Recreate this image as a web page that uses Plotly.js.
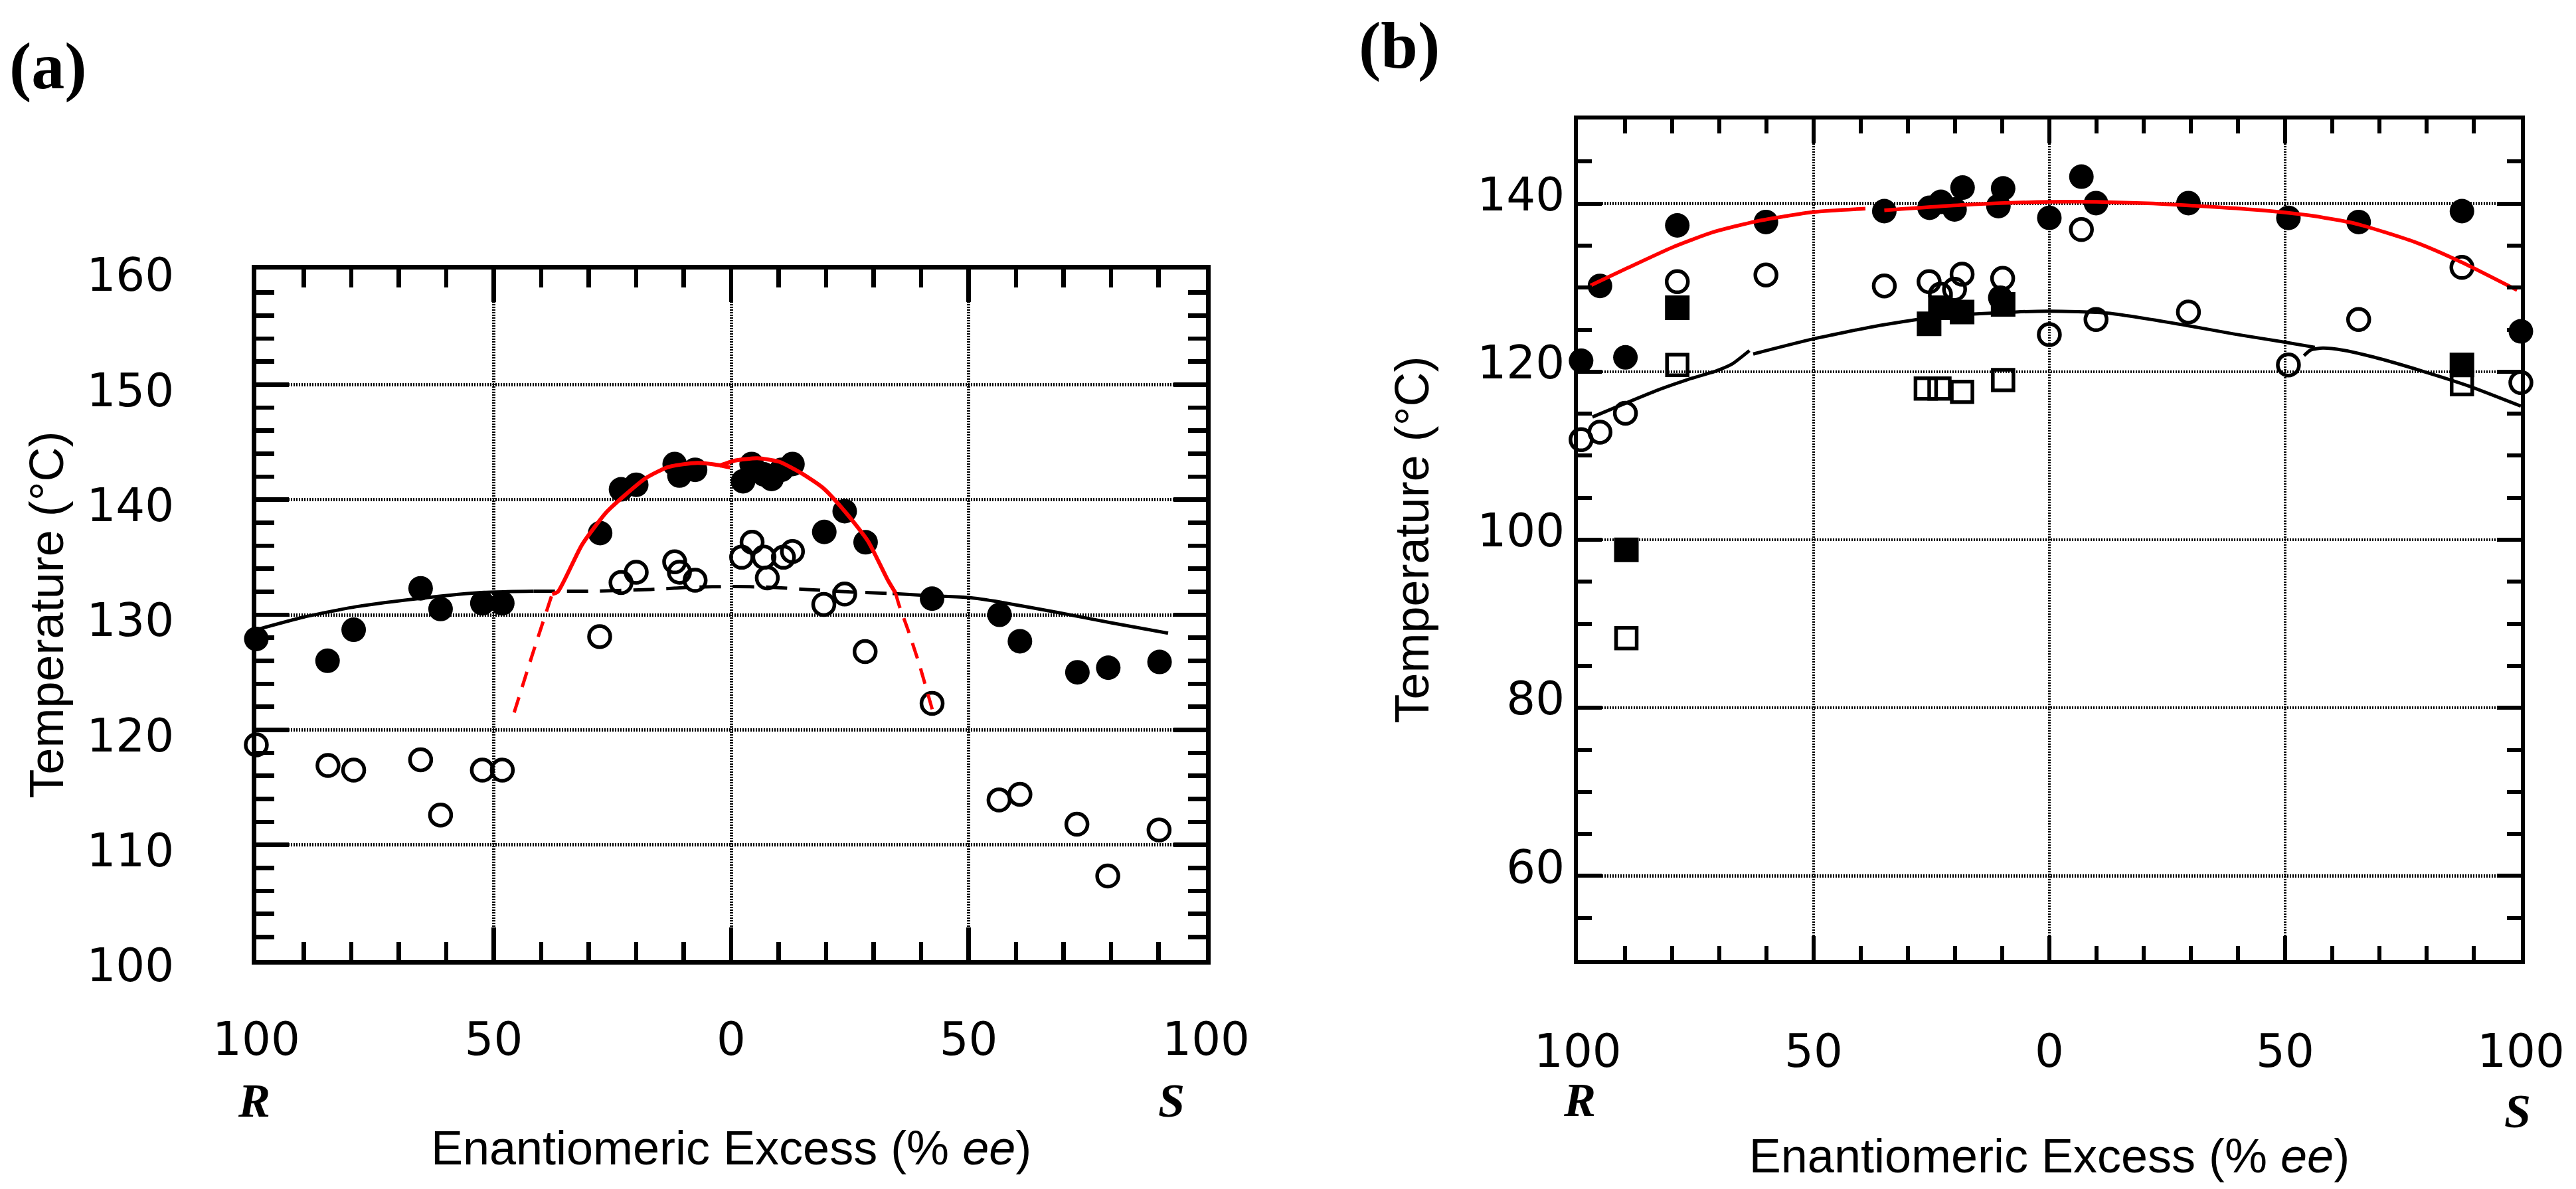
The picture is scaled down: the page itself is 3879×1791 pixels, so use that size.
<!DOCTYPE html>
<html><head><meta charset="utf-8">
<script src="https://cdn.plot.ly/plotly-3.0.1.min.js"></script>
<style>html,body{margin:0;padding:0;background:#fff;} #chart{width:3879px;height:1791px;}</style>
</head><body><div id="chart"></div>
<script>
// ---------- Panel (a) data ----------
const aFilledX = [-100,-85,-79.5,-65.4,-61.2,-52.4,-48.2,-27.6,-23.2,-20,-11.9,-10.9,-7.6,2.5,4.3,6.9,8.5,10.6,12.9,19.6,23.9,28.3,42.3,56.5,60.8,72.9,79.4,90.2];
const aFilledY = [127.9,126.0,128.7,132.3,130.5,131.0,131.0,137.1,140.9,141.3,143.1,142.1,142.6,141.6,143.1,142.2,141.8,142.6,143.1,137.2,139.0,136.3,131.4,130.0,127.7,125.0,125.4,125.9];
const aOpenX = [-100,-84.9,-79.5,-65.4,-61.2,-52.4,-48.2,-27.7,-23.2,-20,-11.9,-10.9,-7.6,2.2,4.4,6.9,7.6,11.0,12.9,19.5,23.9,28.2,42.3,56.4,60.8,72.8,79.3,90.1];
const aOpenY = [118.7,116.9,116.5,117.4,112.6,116.5,116.5,128.1,132.8,133.7,134.6,133.7,133.0,135.0,136.3,135.0,133.2,135.0,135.5,130.9,131.8,126.8,122.3,113.9,114.4,111.8,107.3,111.3];
// black fitted curve (solid - dashed - solid)
const aBlackLeftX = [-100,-90,-79,-65,-52,-41.6];
const aBlackLeftY = [128.7,129.8,130.7,131.45,131.95,132.05];
const aBlackMidX = [-41.6,-30,-17,-8,0,8,16,24,34];
const aBlackMidY = [132.05,132.05,132.2,132.4,132.45,132.4,132.2,132.0,131.85];
const aBlackRightX = [34,42.3,50,56.7,68.7,80.1,92];
const aBlackRightY = [131.85,131.65,131.5,131.1,130.2,129.3,128.4];
// red fitted curves
const aRedLeftX = [-37.7,-36.5,-31.4,-26.3,-22.5,-17.9,-13.2,-7.1,-2.5,-0.2];
const aRedLeftY = [131.8,132.0,136.1,138.9,140.35,141.9,142.85,143.2,143.0,142.8];
const aRedRightX = [-2.5,0.8,5.5,10.1,14.8,19.4,24.1,28.8,33.0,34.6];
const aRedRightY = [142.95,143.4,143.6,143.3,142.3,141.0,138.9,136.4,133.0,131.9];
const aRedDashLeftX = [-45.7,-41.9,-37.7];
const aRedDashLeftY = [121.5,126.5,131.8];
const aRedDashRightX = [34.6,35.3,37.3,39.6,42.6];
const aRedDashRightY = [131.9,130.9,128.6,125.7,121.4];

// ---------- Panel (b) data ----------
const bFilledCircX = [-99.3,-95.3,-89.9,-78.9,-60.1,-35.0,-25.4,-23.0,-20.1,-18.4,-10.8,-9.8,-10.4,0,6.8,9.9,29.5,50.7,65.6,87.5,100];
const bFilledCircY = [121.3,130.2,121.7,137.4,137.8,139.1,139.5,140.2,139.3,141.9,139.7,141.8,128.8,138.3,143.2,140.05,140.05,138.3,137.8,139.1,124.8];
const bOpenCircX = [-99.3,-95.3,-89.9,-78.9,-60.1,-35.0,-25.5,-23.1,-20.1,-18.5,-9.9,0,6.8,9.9,29.5,50.7,65.6,87.5,100];
const bOpenCircY = [111.9,112.8,115.05,130.7,131.5,130.2,130.7,129.2,129.8,131.6,131.1,124.4,136.9,126.2,127.1,120.8,126.2,132.4,118.7];
const bFilledSqX = [-89.7,-78.9,-25.5,-23.1,-18.5,-9.8,87.5];
const bFilledSqY = [98.8,127.6,125.7,127.6,127.1,128.0,120.8];
const bOpenSqX = [-89.7,-78.9,-26.2,-23.3,-18.5,-9.8,87.5];
const bOpenSqY = [88.3,120.8,118.0,118.0,117.6,119.0,118.5];
// black fitted curve (three pieces)
const bBlackLeftX = [-96.9,-89.2,-82.6,-75.9,-70.6,-67.3,-63.6];
const bBlackLeftY = [114.6,116.4,117.9,119.2,120.1,120.9,122.5];
const bBlackMidX = [-62.8,-50,-36,-22.7,-7.1,0,12.5,29.1,39,50,56.3];
const bBlackMidY = [122.1,123.9,125.5,126.6,127.1,127.2,126.95,125.5,124.5,123.5,122.9];
const bBlackRightX = [54,55.5,58,62.3,69,78.9,88.9,100];
const bBlackRightY = [121.9,122.6,122.8,122.55,121.7,120.1,118.3,115.9];
// red fitted curve (two pieces)
const bRedLeftX = [-97.3,-89.2,-79.9,-71.3,-62,-50,-39];
const bRedLeftY = [130.25,132.4,134.8,136.6,137.9,139.0,139.4];
const bRedRightX = [-35,-16,0,10,22,35,45,55,65,77.6,87.5,99.2];
const bRedRightY = [139.2,139.9,140.2,140.2,140.0,139.6,139.2,138.6,137.6,135.4,133.0,129.7];

// ---------- tick labels ----------
const xTickVals = [-100,-50,0,50,100];
const xTickText = ['100','50','0','50','100'];

const traces = [];
function pts(x,y,xa,ya,marker){
  traces.push({type:'scatter',mode:'markers',x:x,y:y,xaxis:xa,yaxis:ya,cliponaxis:false,marker:marker,hoverinfo:'skip'});
}
function line(x,y,xa,ya,color,width,dash){
  traces.push({type:'scatter',mode:'lines',x:x,y:y,xaxis:xa,yaxis:ya,line:{color:color,width:width,dash:dash||'solid',shape:'spline',smoothing:0.6},hoverinfo:'skip'});
}
const filledC = {symbol:'circle',size:37,color:'#000',line:{width:0}};
const openC = {symbol:'circle-open',size:32,color:'#000',line:{width:5.5,color:'#000'}};
const filledS = {symbol:'square',size:37,color:'#000',line:{width:0}};
const openS = {symbol:'square-open',size:31,color:'#000',line:{width:5.5,color:'#000'}};

// panel a
pts(aFilledX,aFilledY,'x','y',filledC);
pts(aOpenX,aOpenY,'x','y',openC);
line(aBlackLeftX,aBlackLeftY,'x','y','#000',5);
line(aBlackMidX,aBlackMidY,'x','y','#000',5,'32px,18px');
line(aBlackRightX,aBlackRightY,'x','y','#000',5);
line(aRedDashLeftX,aRedDashLeftY,'x','y','#ff0000',5,'24px,16px');
line(aRedDashRightX,aRedDashRightY,'x','y','#ff0000',5,'24px,16px');
line(aRedLeftX,aRedLeftY,'x','y','#ff0000',6);
line(aRedRightX,aRedRightY,'x','y','#ff0000',6);
// panel b
pts(bFilledCircX,bFilledCircY,'x2','y2',filledC);
pts(bOpenCircX,bOpenCircY,'x2','y2',openC);
pts(bFilledSqX,bFilledSqY,'x2','y2',filledS);
pts(bOpenSqX,bOpenSqY,'x2','y2',openS);
line(bBlackLeftX,bBlackLeftY,'x2','y2','#000',5);
line(bBlackMidX,bBlackMidY,'x2','y2','#000',5);
line(bBlackRightX,bBlackRightY,'x2','y2','#000',5);
line(bRedLeftX,bRedLeftY,'x2','y2','#ff0000',5.5);
line(bRedRightX,bRedRightY,'x2','y2','#ff0000',5.5);

const tickFont = {family:'DejaVu Sans',size:69,color:'#000'};
const titleFont = {family:'Liberation Sans, Arial, sans-serif',size:72,color:'#000'};
function xAxis(domain,anchor,tl,mtl,tw,lw,gw,standoffLab,standoffTitle){
  return {domain:domain,anchor:anchor,range:[-100,100],tickmode:'array',tickvals:xTickVals,ticktext:xTickText,
    ticks:'inside',ticklen:tl,tickwidth:tw,tickcolor:'#000',mirror:'allticks',showline:true,linewidth:lw,linecolor:'#000',
    showgrid:true,gridcolor:'#000',gridwidth:gw,griddash:'2px,2px',zeroline:false,tickfont:tickFont,
    minor:{tickmode:'linear',tick0:0,dtick:10,ticks:'inside',ticklen:mtl,tickwidth:tw,tickcolor:'#000',showgrid:false},
    ticklabelstandoff:standoffLab,fixedrange:true,
    title:{text:'Enantiomeric Excess (% <i>ee</i>)',font:titleFont,standoff:standoffTitle}};
}
function yAxis(domain,anchor,range,tick0,dtick,mdtick,tl,mtl,tw,lw,gw,standoffLab,shiftLab,standoffTitle){
  return {domain:domain,anchor:anchor,range:range,tickmode:'linear',tick0:tick0,dtick:dtick,
    ticks:'inside',ticklen:tl,tickwidth:tw,tickcolor:'#000',mirror:'allticks',showline:true,linewidth:lw,linecolor:'#000',
    showgrid:true,gridcolor:'#000',gridwidth:gw,griddash:'2px,2px',zeroline:false,tickfont:tickFont,
    minor:{tickmode:'linear',tick0:range[0],dtick:mdtick,ticks:'inside',ticklen:mtl,tickwidth:tw,tickcolor:'#000',showgrid:false},
    ticklabelstandoff:standoffLab,ticklabelshift:shiftLab,fixedrange:true,
    title:{text:'Temperature (°C)',font:titleFont,standoff:standoffTitle}};
}

const layout = {
  width:3879,height:1791,margin:{l:0,r:0,t:0,b:0,pad:0},
  paper_bgcolor:'#fff',plot_bgcolor:'rgba(0,0,0,0)',showlegend:false,
  font:{family:'DejaVu Sans',size:68,color:'#000'},
  xaxis: xAxis([0.0995,0.4682],'y',49,27,6.5,7,5,53,102),
  yaxis: yAxis([0.1926,0.7733],'x',[100,160],100,10,2,49,27,6.5,7,5,103,8,14),
  xaxis2: xAxis([0.6125,0.9786],'y2',36,21,6,6,4.5,72,96),
  yaxis2: yAxis([0.1926,0.8995],'x2',[50,150],0,20,5,36,21,6,6,4.5,0,-14,51),
  annotations:[
    {text:'<b>(a)</b>',xref:'paper',yref:'paper',x:0.0188,y:0.9447,xanchor:'center',yanchor:'middle',showarrow:false,font:{family:'Liberation Serif, Times New Roman, serif',size:100,color:'#000'}},
    {text:'<b>(b)</b>',xref:'paper',yref:'paper',x:0.5432,y:0.962,xanchor:'center',yanchor:'middle',showarrow:false,font:{family:'Liberation Serif, Times New Roman, serif',size:100,color:'#000'}},
    {text:'<b><i>R</i></b>',xref:'paper',yref:'paper',x:0.0985,y:0.0742,xanchor:'center',yanchor:'middle',showarrow:false,font:{family:'Liberation Serif, Times New Roman, serif',size:72,color:'#000'}},
    {text:'<b><i>S</i></b>',xref:'paper',yref:'paper',x:0.4548,y:0.0742,xanchor:'center',yanchor:'middle',showarrow:false,font:{family:'Liberation Serif, Times New Roman, serif',size:72,color:'#000'}},
    {text:'<b><i>R</i></b>',xref:'paper',yref:'paper',x:0.6133,y:0.0748,xanchor:'center',yanchor:'middle',showarrow:false,font:{family:'Liberation Serif, Times New Roman, serif',size:72,color:'#000'}},
    {text:'<b><i>S</i></b>',xref:'paper',yref:'paper',x:0.9773,y:0.0653,xanchor:'center',yanchor:'middle',showarrow:false,font:{family:'Liberation Serif, Times New Roman, serif',size:72,color:'#000'}}
  ]
};
Plotly.newPlot('chart',traces,layout,{staticPlot:true,displayModeBar:false});
</script></body></html>
